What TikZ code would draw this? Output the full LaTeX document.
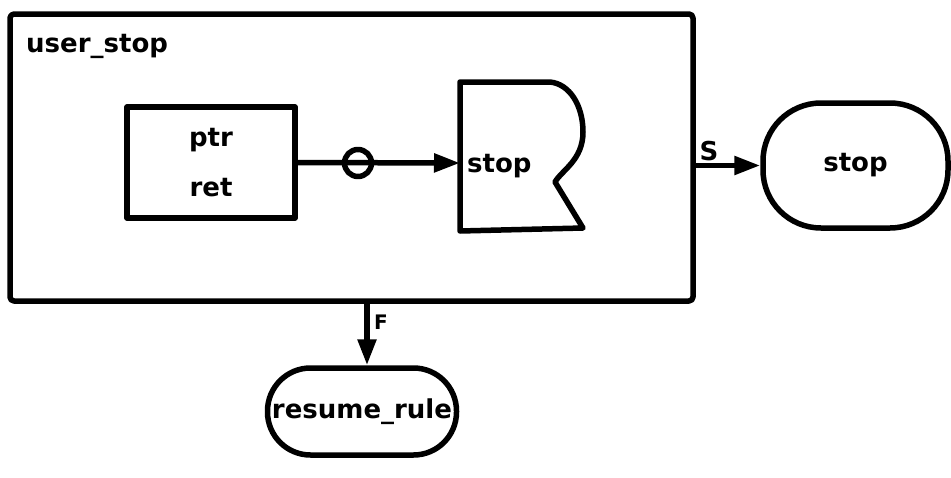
\documentclass[tikz,border=0pt]{standalone}
\usepackage{fontspec}
\setmainfont{DejaVu Sans}
\usetikzlibrary{arrows.meta}
\tikzset{
  ln/.style={line width=5.5pt, line join=round},
  boxnode/.style={ln, draw, rectangle, inner sep=0pt},
  termnode/.style={ln, draw, rectangle, inner sep=0pt},
  txt/.style={font=\fontsize{26}{30}\selectfont\bfseries, inner sep=0pt},
  arr/.style={ln, -{Triangle[length=26pt,width=18pt]}},
}
\begin{document}
\begin{tikzpicture}[x=1pt,y=-1pt]
\useasboundingbox (0,0) rectangle (951,477);
% outer box
\node[boxnode, rounded corners=4pt, minimum width=683pt, minimum height=287pt] (outer) at (351.5,157.5) {};
\node[txt, anchor=west] (title) at (26,46) {user\_stop};
% inner box
\node[boxnode, minimum width=168pt, minimum height=111pt, txt, align=center] (inner) at (211,162.5) {ptr\\[20pt]ret};
% stop document shape
\draw[ln] (460,82) -- (550,82) .. controls (570,84) and (583,106) .. (583,132)
  .. controls (583,160) and (562,170) .. (555,182) -- (583,228) -- (460,231) -- cycle;
\node[txt, anchor=west] (stoptxt) at (467,166) {stop};
\coordinate (sdin) at (460,163);
% circle on connector
\node[ln, draw, circle, minimum size=27pt, inner sep=0pt] (ring) at (358,163) {};
\draw[arr] (inner.east) -- (sdin);
% terminal stop
\node[termnode, rounded corners=58pt, minimum width=185pt, minimum height=125pt, txt] (stopT) at (855.5,165.5) {stop};
\draw[arr] (stopT.west -| outer.east) -- (stopT.west);
\node[txt] (slabel) at (709,151) {S};
% terminal resume_rule
\node[termnode, rounded corners=43pt, minimum width=189pt, minimum height=87pt, txt] (resume) at (362,411.5) {resume\_rule};
\draw[arr] (outer.south -| 367,0) -- (resume.north -| 367,0);
\node[txt, font=\fontsize{20}{24}\selectfont\bfseries] (flabel) at (381,322) {F};
\end{tikzpicture}
\end{document}
